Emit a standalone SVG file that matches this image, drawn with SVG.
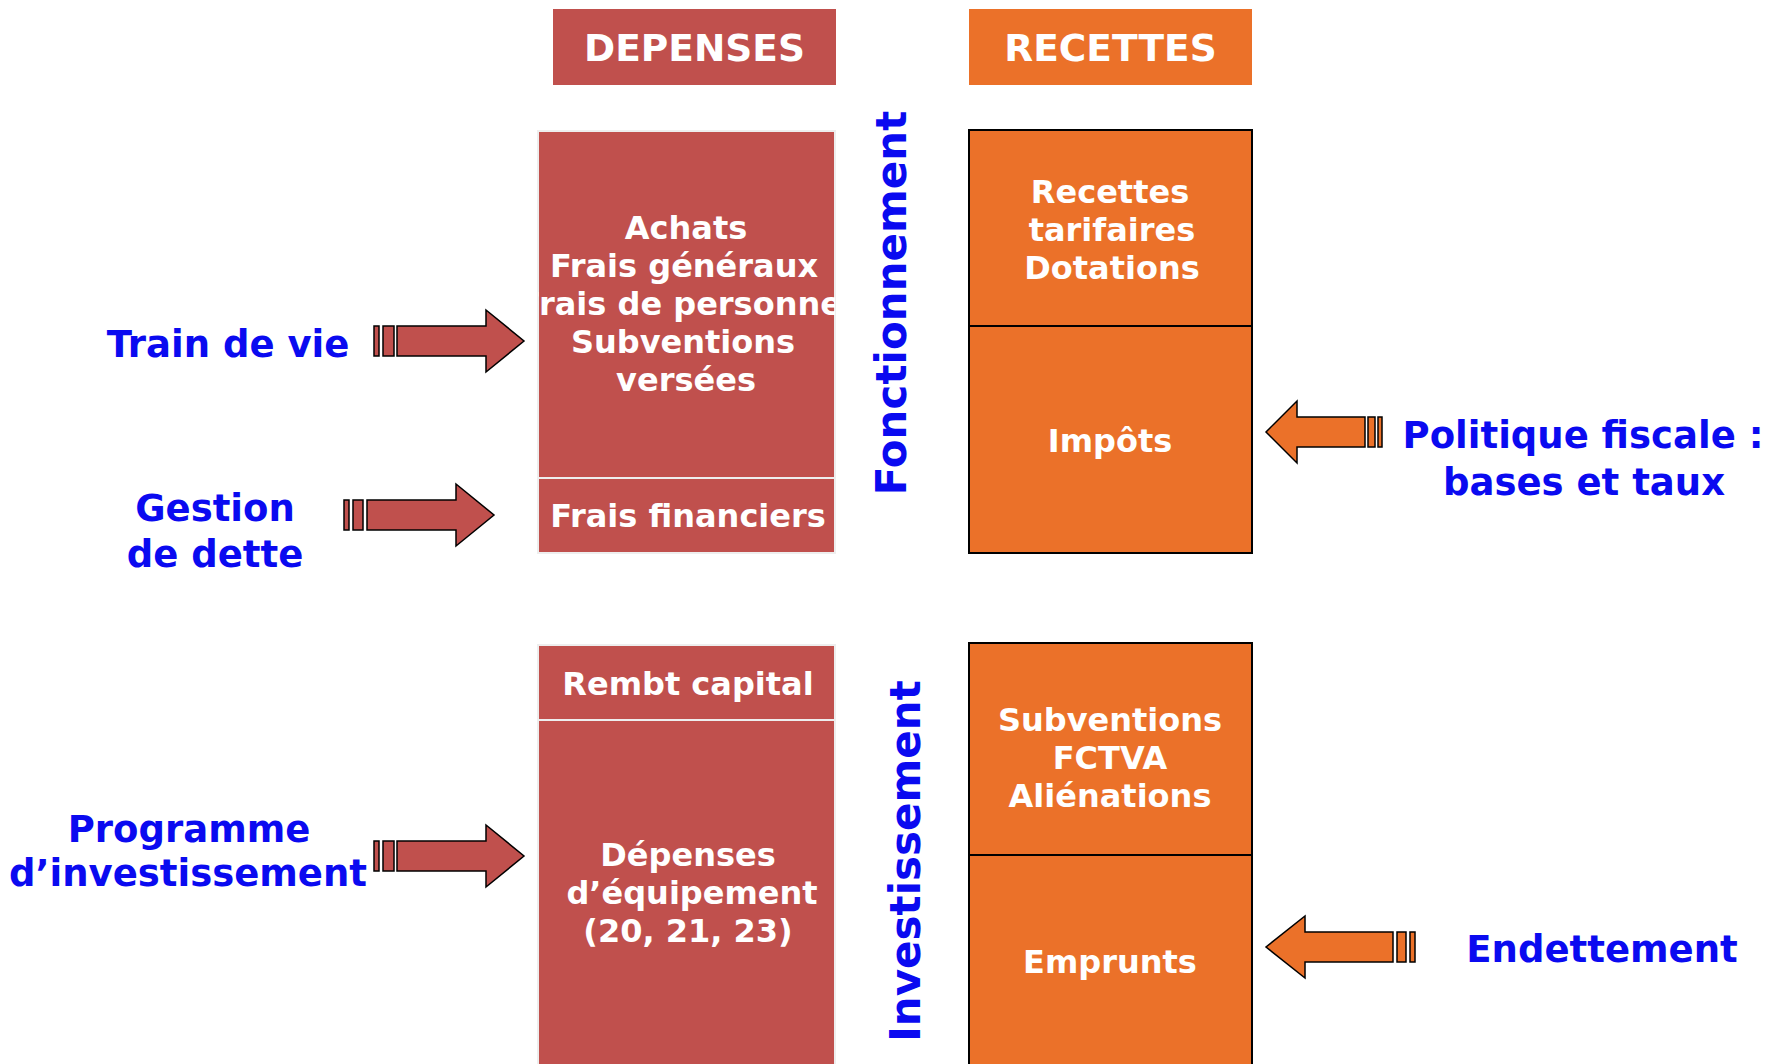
<svg xmlns="http://www.w3.org/2000/svg" width="1777" height="1064" viewBox="0 0 1777 1064">
<style>
.red{fill:#C0504D;stroke:#EEEEEE;stroke-width:2}
.redh{fill:#C0504D}
.org{fill:#EB7129;stroke:#000;stroke-width:2}
.orgh{fill:#EB7129}
.bt{font-family:"DejaVu Sans","Verdana",sans-serif;font-weight:bold;font-size:32px;fill:#FFFFFF;text-anchor:middle}
.ht{font-family:"DejaVu Sans","Verdana",sans-serif;font-weight:bold;font-size:37.5px;fill:#FFFFFF;text-anchor:middle}
.lb{font-family:"DejaVu Sans","Verdana",sans-serif;font-weight:bold;font-size:37px;fill:#0A0AF0;text-anchor:middle}
.vt{font-family:"DejaVu Sans","Verdana",sans-serif;font-weight:bold;font-size:42px;fill:#0A0AF0;text-anchor:middle}
.ar{stroke:#000;stroke-width:1.5}
.arr{fill:#C0504D}
.aro{fill:#EB7129}
</style>
<defs>
<clipPath id="clipA"><rect x="538" y="131" width="297" height="346"/></clipPath>
</defs>

<g id="hdr-depenses">
<rect class="redh" x="553" y="9" width="283" height="76"/>
<text class="ht" x="694.5" y="61">DEPENSES</text>
</g>
<g id="hdr-recettes">
<rect class="orgh" x="969" y="9" width="283" height="76"/>
<text class="ht" x="1110.5" y="61">RECETTES</text>
</g>

<g id="dep-fonct">
<rect class="red" x="538" y="131" width="297" height="347"/>
<g clip-path="url(#clipA)">
<text class="bt" x="686" y="239">Achats</text>
<text class="bt" x="684" y="277">Frais généraux</text>
<text class="bt" x="686" y="315">Frais de personnel</text>
<text class="bt" x="683" y="353">Subventions</text>
<text class="bt" x="686" y="391">versées</text>
</g>
</g>
<g id="dep-frais-fin">
<rect class="red" x="538" y="478" width="297" height="75"/>
<text class="bt" x="688" y="527">Frais financiers</text>
</g>
<g id="dep-rembt">
<rect class="red" x="538" y="645" width="297" height="75"/>
<text class="bt" x="688" y="695">Rembt capital</text>
</g>
<g id="dep-equip">
<rect class="red" x="538" y="720" width="297" height="346"/>
<text class="bt" x="688" y="866">Dépenses</text>
<text class="bt" x="692" y="904">d’équipement</text>
<text class="bt" x="688" y="942">(20, 21, 23)</text>
</g>

<g id="rec-tarif">
<rect class="org" x="969" y="130" width="283" height="196"/>
<text class="bt" x="1110" y="203">Recettes</text>
<text class="bt" x="1112" y="241">tarifaires</text>
<text class="bt" x="1112" y="279">Dotations</text>
</g>
<g id="rec-impots">
<rect class="org" x="969" y="326" width="283" height="227"/>
<text class="bt" x="1110" y="452">Impôts</text>
</g>
<g id="rec-subv">
<rect class="org" x="969" y="643" width="283" height="212"/>
<text class="bt" x="1110" y="731">Subventions</text>
<text class="bt" x="1110" y="769">FCTVA</text>
<text class="bt" x="1110" y="807">Aliénations</text>
</g>
<g id="rec-emprunts">
<rect class="org" x="969" y="855" width="283" height="212"/>
<text class="bt" x="1110" y="973">Emprunts</text>
</g>

<g id="lbl-fonctionnement">
<text class="vt" transform="translate(906,303) rotate(-90)">Fonctionnement</text>
</g>
<g id="lbl-investissement">
<text class="vt" transform="translate(920,861) rotate(-90)">Investissement</text>
</g>

<g id="lbl-train">
<text class="lb" x="228" y="357">Train de vie</text>
</g>
<g id="lbl-gestion">
<text class="lb" x="215" y="521">Gestion</text>
<text class="lb" x="215" y="567">de dette</text>
</g>
<g id="lbl-programme">
<text class="lb" x="189" y="842">Programme</text>
<text class="lb" x="188" y="886">d’investissement</text>
</g>
<g id="lbl-politique">
<text class="lb" x="1583" y="448">Politique fiscale :</text>
<text class="lb" x="1584" y="495">bases et taux</text>
</g>
<g id="lbl-endettement">
<text class="lb" x="1602" y="962">Endettement</text>
</g>

<g id="connectors">
<g id="arrow-train" class="ar arr">
<rect x="374" y="326" width="5" height="30"/>
<rect x="383" y="326" width="11" height="30"/>
<path d="M397,326 H486 V310 L524,341 L486,372 V356 H397 Z"/>
</g>
<g id="arrow-gestion" class="ar arr">
<rect x="344" y="500" width="5" height="30"/>
<rect x="353" y="500" width="10" height="30"/>
<path d="M367,500 H456 V484 L494,515 L456,546 V530 H367 Z"/>
</g>
<g id="arrow-programme" class="ar arr">
<rect x="374" y="841" width="5" height="30"/>
<rect x="383" y="841" width="11" height="30"/>
<path d="M397,841 H486 V825 L524,856 L486,887 V871 H397 Z"/>
</g>
<g id="arrow-politique" class="ar aro">
<rect x="1378" y="417" width="4" height="30"/>
<rect x="1368" y="417" width="7" height="30"/>
<path d="M1365,417 H1297 V401 L1266,432 L1297,463 V447 H1365 Z"/>
</g>
<g id="arrow-endettement" class="ar aro">
<rect x="1410" y="932" width="5" height="30"/>
<rect x="1397" y="932" width="9" height="30"/>
<path d="M1393,932 H1305 V916 L1266,947 L1305,978 V962 H1393 Z"/>
</g>
</g>
</svg>
